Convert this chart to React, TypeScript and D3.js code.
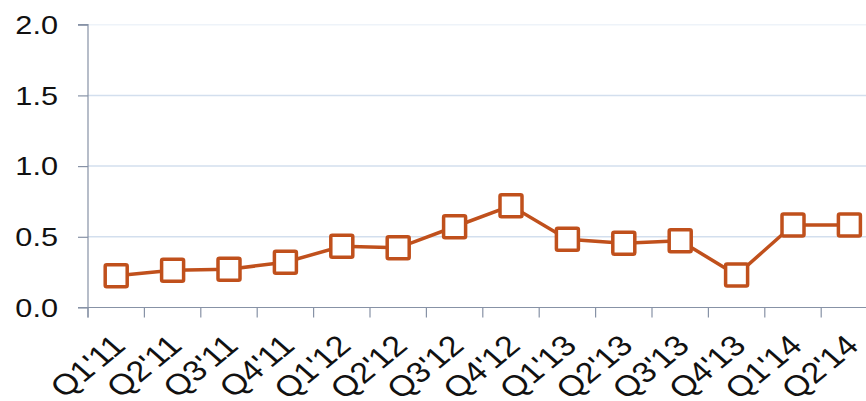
import * as d3 from "d3";
import { useEffect, useRef } from "react";

// quarters and values
const quarters = [
  "Q1'11", "Q2'11", "Q3'11", "Q4'11",
  "Q1'12", "Q2'12", "Q3'12", "Q4'12",
  "Q1'13", "Q2'13", "Q3'13", "Q4'13",
  "Q1'14", "Q2'14",
];
const values = [
  0.224, 0.263, 0.271, 0.32,
  0.433, 0.422, 0.571, 0.719,
  0.483, 0.454, 0.472, 0.23,
  0.583, 0.583,
];
const yTicks = [0, 0.5, 1.0, 1.5, 2.0];

const W = 866;
const H = 401;

export default function App() {
  const ref = useRef<SVGSVGElement>(null);

  useEffect(() => {
    const svg = d3.select(ref.current);
    svg.selectAll("*").remove();

    const left = 88;
    const step = 56.4;
    const top = 24.7;
    const bottom = 307.5;
    const font = "'Liberation Sans', Arial, sans-serif";
    const stretch = 1.18; // text in the reference is drawn wide
    const lineColor = "#C0501C";
    const axisColor = "#8792a6";

    const x = d3
      .scaleBand<string>()
      .domain(quarters)
      .range([left, left + step * quarters.length]);
    const y = d3.scaleLinear().domain([0, 2]).range([bottom, top]);

    // gridlines
    svg
      .append("g")
      .selectAll("line")
      .data(yTicks.filter((d) => d > 0))
      .enter()
      .append("line")
      .attr("x1", left)
      .attr("x2", W)
      .attr("y1", (d) => y(d))
      .attr("y2", (d) => y(d))
      .attr("stroke", (d) => (d === 2 ? "#eef3f9" : "#d3dfee"))
      .attr("stroke-width", 1.5);

    // y axis
    const yAxis = svg
      .append("g")
      .attr("transform", `translate(${left},0)`)
      .call(d3.axisLeft(y).tickValues(yTicks).tickSize(10).tickFormat(() => ""));
    yAxis.select(".domain").attr("stroke", axisColor).attr("stroke-width", 1.2)
      .attr("d", `M-10,${top}H0V${bottom + 10}`);
    yAxis.selectAll(".tick line").attr("stroke", axisColor).attr("stroke-width", 1.2);
    yAxis.selectAll(".tick text").remove();

    svg
      .append("g")
      .selectAll("text")
      .data(yTicks)
      .enter()
      .append("text")
      .attr("transform", (d) => `translate(58,${y(d)}) scale(${stretch},1)`)
      .attr("text-anchor", "end")
      .attr("dy", "0.36em")
      .attr("font-family", font)
      .attr("font-size", 26)
      .attr("fill", "#111")
      .text((d) => d3.format(".1f")(d));

    // x axis
    const xAxis = svg
      .append("g")
      .attr("transform", `translate(0,${bottom})`)
      .call(d3.axisBottom(x).tickSize(0).tickFormat(() => ""));
    xAxis.select(".domain").attr("stroke", axisColor).attr("stroke-width", 1.2)
      .attr("d", `M${left - 10},0H${W}`);
    xAxis.selectAll(".tick").remove();
    xAxis
      .selectAll(".sep")
      .data(d3.range(quarters.length + 1))
      .enter()
      .append("line")
      .attr("x1", (i) => left + i * x.step())
      .attr("x2", (i) => left + i * x.step())
      .attr("y1", 0)
      .attr("y2", 10)
      .attr("stroke", axisColor)
      .attr("stroke-width", 1.2);

    // rotated category labels
    svg
      .append("g")
      .selectAll("text")
      .data(quarters)
      .enter()
      .append("text")
      .attr(
        "transform",
        (d) => `translate(${x(d)! + x.bandwidth() / 2 + 11},${bottom + 40}) scale(${stretch},1) rotate(-44)`
      )
      .attr("text-anchor", "end")
      .attr("font-family", font)
      .attr("font-size", 29)
      .attr("fill", "#111")
      .text((d) => d);

    // line
    const line = d3
      .line<number>()
      .x((_, i) => x(quarters[i])! + x.bandwidth() / 2)
      .y((d) => y(d));
    svg
      .append("path")
      .datum(values)
      .attr("d", line)
      .attr("fill", "none")
      .attr("stroke", lineColor)
      .attr("stroke-width", 3.5);

    // square markers
    const s = 22;
    svg
      .append("g")
      .selectAll("rect")
      .data(values)
      .enter()
      .append("rect")
      .attr("x", (_, i) => x(quarters[i])! + x.bandwidth() / 2 - s / 2)
      .attr("y", (d) => y(d) - s / 2)
      .attr("width", s)
      .attr("height", s)
      .attr("rx", 1.5)
      .attr("fill", "#fff")
      .attr("stroke", lineColor)
      .attr("stroke-width", 3.5);
  }, []);

  return (
    <svg
      ref={ref}
      width={W}
      height={H}
      style={{ position: "absolute", left: 0, top: 0, background: "#fff" }}
    ></svg>
  );
}
